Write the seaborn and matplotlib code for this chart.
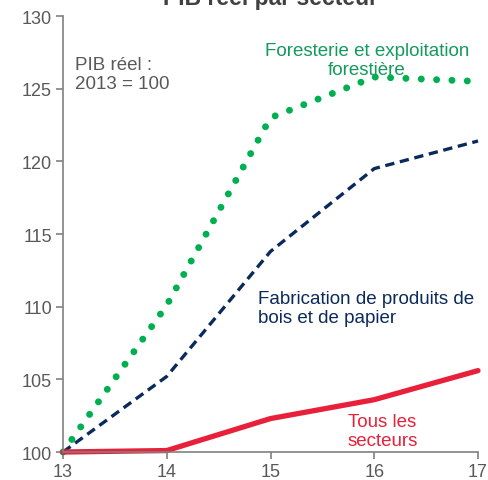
import matplotlib
matplotlib.use("Agg")
import matplotlib.pyplot as plt
import seaborn as sns
import pandas as pd

years = [13, 14, 15, 16, 17]
foresterie = [100, 110.1, 123.0, 125.8, 125.5]
fabrication = [100, 105.2, 113.8, 119.5, 121.4]
tous = [100, 100.1, 102.3, 103.6, 105.6]
yticks = [100, 105, 110, 115, 120, 125, 130]

sns.set_theme(style="white")
plt.rcParams['font.family'] = ['Liberation Sans', 'DejaVu Sans']

GREEN = "#00b050"
GREEN_T = "#149a5c"
NAVY = "#0b2a5c"
RED = "#e8203a"
GRAY = "#595959"

fig = plt.figure(figsize=(4.89, 4.81), dpi=100)
ax = fig.add_axes([63/489, 1-453/481, (478-63)/489, (453-17)/481])

df = pd.DataFrame({"x": years, "y": foresterie})
sns.lineplot(data=df, x="x", y="y", ax=ax, color=GREEN, lw=5.0, clip_on=False)
ln = ax.lines[-1]
ln.set_linestyle((0, (0.01, 2.2)))
ln.set_dash_capstyle('round')
df = pd.DataFrame({"x": years, "y": fabrication})
sns.lineplot(data=df, x="x", y="y", ax=ax, color=NAVY, lw=2.4, clip_on=False)
ax.lines[-1].set_linestyle((0, (2.8, 1.7)))
df = pd.DataFrame({"x": years, "y": tous})
sns.lineplot(data=df, x="x", y="y", ax=ax, color=RED, lw=3.8, clip_on=False)

ax.set_xlim(13, 17)
ax.set_ylim(100, 130)
ax.set_xticks(years)
ax.set_yticks(yticks)
ax.set_xlabel("")
ax.set_ylabel("")
for s in ["top", "right"]:
    ax.spines[s].set_visible(False)
for s in ["left", "bottom"]:
    ax.spines[s].set_color("#808080")
    ax.spines[s].set_linewidth(1.2)
ax.tick_params(axis="both", which="both", direction="out", length=5, width=1.2,
               color="#808080", labelcolor=GRAY, labelsize=13, pad=3,
               left=True, bottom=True)

fs = 13.5
ax.text(13.116, 126.0, "PIB réel :\n2013 = 100", color=GRAY, fontsize=fs,
        ha="left", va="center", linespacing=1.15)
ax.text(15.93, 127.0, "Foresterie et exploitation\nforestière", color=GREEN_T,
        fontsize=fs, ha="center", va="center", linespacing=1.15)
ax.text(14.88, 109.9, "Fabrication de produits de\nbois et de papier", color=NAVY,
        fontsize=fs, ha="left", va="center", linespacing=1.15)
ax.text(16.08, 101.45, "Tous les\nsecteurs", color=RED,
        fontsize=fs, ha="center", va="center", linespacing=1.15)

fig.text(271/489, 1-5/481, "PIB réel par secteur", ha="center", va="baseline",
         fontsize=16.5, fontweight="bold", color="#404040")

fig.savefig("out.png", dpi=100)
